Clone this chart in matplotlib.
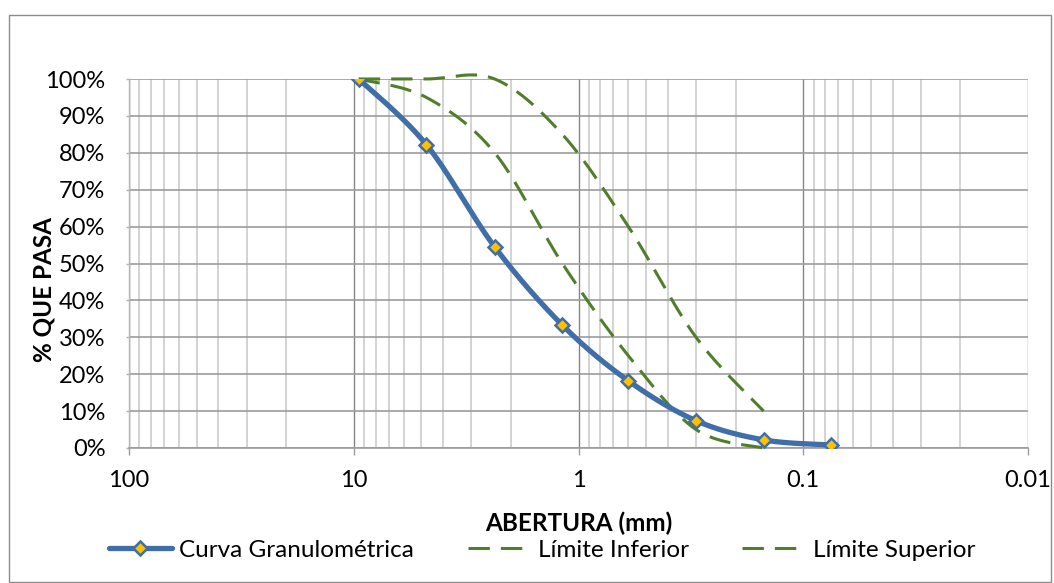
import numpy as np
import matplotlib
matplotlib.use('Agg')
import matplotlib.pyplot as plt
from matplotlib.lines import Line2D
from matplotlib.patches import Rectangle
from matplotlib.ticker import FixedLocator, FuncFormatter, NullFormatter

plt.rcParams['font.family'] = ['Lato', 'DejaVu Sans']

# tamices (mm) y porcentajes que pasan
abertura = [9.5, 4.75, 2.36, 1.18, 0.6, 0.3, 0.15, 0.075]
curva = [100, 82.2, 54.5, 33.3, 18.2, 7.4, 2.2, 0.8]

abertura_lim = [9.5, 4.75, 2.36, 1.18, 0.6, 0.3, 0.15]
lim_inferior = [100, 95, 80, 50, 25, 5, 0]
lim_superior = [100, 100, 100, 85, 60, 30, 10]

x_ticks = [100, 10, 1, 0.1, 0.01]
x_labels = ['100', '10', '1', '0.1', '0.01']

W, H = 1054, 583
L, R, T, B = 129, 1028, 79, 448
DEC = (R - L) / 4.0      # px por decada
PCT = (B - T) / 100.0    # px por 1%

azul = '#3f6ea8'
verde = '#4f7f2b'


def suavizar(xs, ys, n=40):
    # linea suavizada tipo Excel (bezier con tangentes 1/6) en pixeles
    p = np.column_stack([np.log10(xs) * DEC, np.array(ys, float) * PCT])
    out = []
    t = np.linspace(0, 1, n)[:, None]
    for i in range(len(p) - 1):
        p0 = p[i - 1] if i > 0 else p[i]
        p1, p2 = p[i], p[i + 1]
        p3 = p[i + 2] if i + 2 < len(p) else p[i + 1]
        c1 = p1 + (p2 - p0) / 6
        c2 = p2 - (p3 - p1) / 6
        seg = (1 - t) ** 3 * p1 + 3 * (1 - t) ** 2 * t * c1 + 3 * (1 - t) * t ** 2 * c2 + t ** 3 * p2
        out.append(seg if i == 0 else seg[1:])
    c = np.vstack(out)
    return 10 ** (c[:, 0] / DEC), c[:, 1] / PCT


fig = plt.figure(figsize=(W / 100, H / 100), dpi=100)
ax = fig.add_axes([L / W, 1 - B / H, (R - L) / W, (B - T) / H])

# borde del area del grafico
fig.patches.append(Rectangle((8.5 / W, 1.5 / H), (1051 - 8.5) / W, (580 - 1.5) / H - 12 / H,
                             transform=fig.transFigure, fill=False, ec='#8c8c8c', lw=1.0))

ax.set_xscale('log')
ax.set_xlim(100, 0.01)
ax.set_ylim(0, 100)

minors = [m * 10.0 ** e for e in range(-2, 2) for m in range(2, 10)]
ax.xaxis.set_major_locator(FixedLocator(x_ticks))
ax.xaxis.set_minor_locator(FixedLocator(minors))
ax.xaxis.set_major_formatter(FuncFormatter(lambda v, p: x_labels[x_ticks.index(v)] if v in x_ticks else ''))
ax.xaxis.set_minor_formatter(NullFormatter())
ax.set_yticks(np.arange(0, 101, 10))
ax.yaxis.set_major_formatter(FuncFormatter(lambda v, p: '%d%%' % v))

ax.grid(which='minor', axis='x', color='#cccccc', lw=1.2)
ax.grid(which='major', axis='x', color='#858585', lw=1.0)
ax.grid(which='major', axis='y', color='#9c9c9c', lw=1.2)
ax.set_axisbelow(True)
for s in ['top', 'right']:
    ax.spines[s].set_visible(False)
ax.spines['left'].set_color('#b5b5b5')
ax.spines['bottom'].set_color('#9c9c9c')
ax.spines['left'].set_linewidth(1.0)
ax.spines['bottom'].set_linewidth(1.2)

ax.tick_params(axis='x', which='major', length=5, width=1, color='#9c9c9c', labelsize=17, pad=11)
ax.tick_params(axis='x', which='minor', length=0)
ax.tick_params(axis='y', length=2, width=1, color='#b5b5b5', labelsize=17, pad=15)

xs, ys = suavizar(abertura, curva)
ax.plot(xs, ys, color=azul, lw=3.8, solid_capstyle='round', zorder=4)
ax.plot(abertura, curva, ls='none', marker='D', ms=7.5, mfc='#ffc000', mec=azul, mew=1.8, zorder=5)

xs, ys = suavizar(abertura_lim, lim_inferior)
ax.plot(xs, ys, color=verde, lw=2.2, dashes=(7, 3.6), zorder=3, clip_on=False)
xs, ys = suavizar(abertura_lim, lim_superior)
ax.plot(xs, ys, color=verde, lw=2.2, dashes=(7, 3.6), zorder=3, clip_on=False)

fig.text(579 / W, 1 - 523 / H, 'ABERTURA (mm)', ha='center', va='center', fontsize=17.5, fontweight='bold')
fig.text(44 / W, 1 - 289 / H, '% QUE PASA', ha='center', va='center', rotation=90, fontsize=17.5, fontweight='bold')

handles = [
    Line2D([], [], color=azul, lw=3.8, marker='D', ms=7.5, mfc='#ffc000', mec=azul, mew=1.8, solid_capstyle='round'),
    Line2D([], [], color=verde, lw=2.2, dashes=(7, 3.6)),
    Line2D([], [], color=verde, lw=2.2, dashes=(7, 3.6)),
]
fig.legend(handles, ['Curva Granulométrica', 'Límite Inferior', 'Límite Superior'],
           loc='center', bbox_to_anchor=(542 / W, 1 - 550 / H), ncol=3, frameon=False,
           fontsize=17.5, handlelength=2.6, handletextpad=0.3, columnspacing=2.2, borderpad=0)

fig.savefig('out.png', dpi=100)
